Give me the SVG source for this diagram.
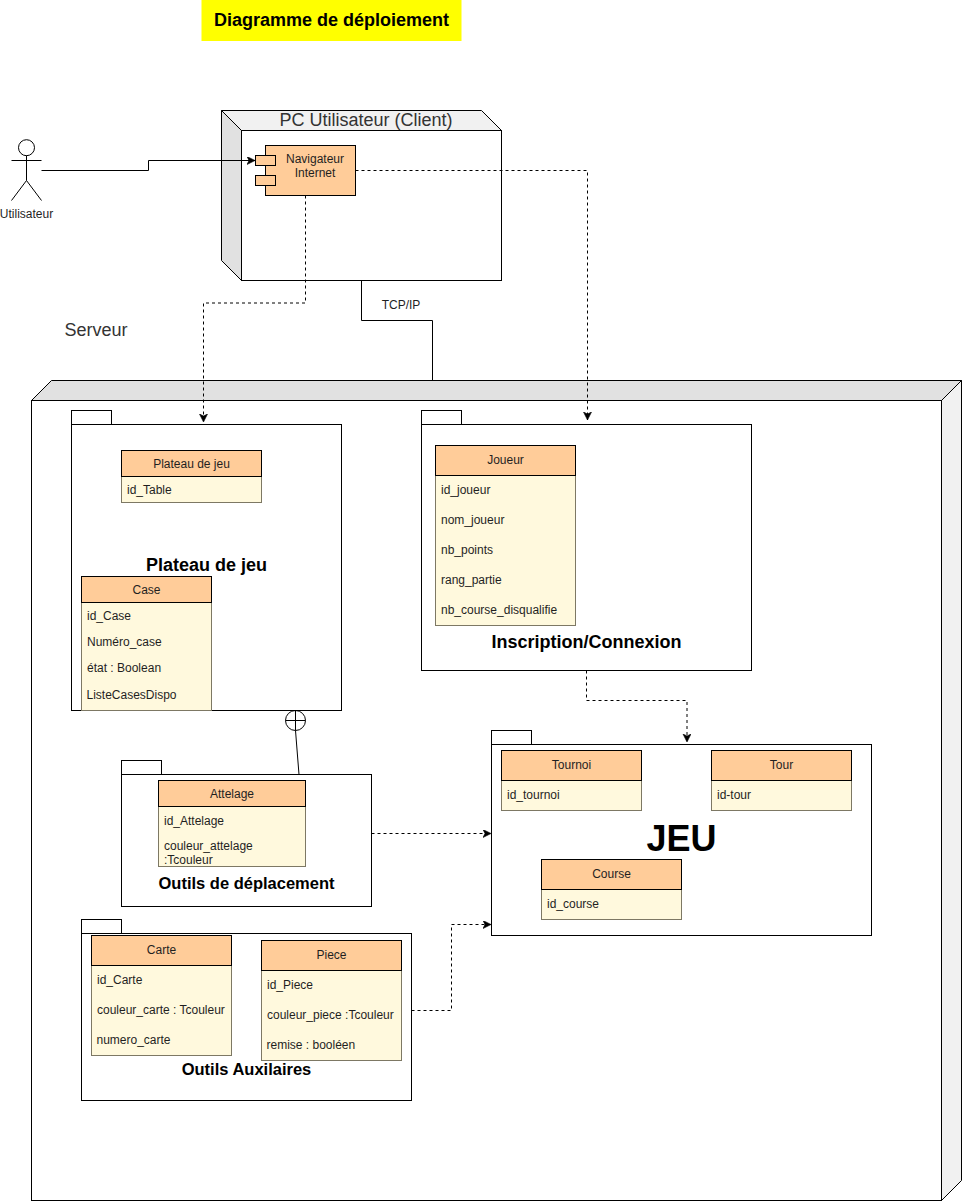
<svg xmlns="http://www.w3.org/2000/svg" width="966" height="1201" viewBox="0 0 966 1201">
<style>
text{font-family:"Liberation Sans",Arial,sans-serif;fill:#1f1f1f;font-size:12px}
.c{text-anchor:middle}
.s{fill:none;stroke:#000;stroke-width:1}
.w{fill:#fff;stroke:#000;stroke-width:1}
.side{fill:#e1e1e1;stroke:#000;stroke-width:1;stroke-linejoin:round}
.light{fill:#f1f1f1;stroke:#000;stroke-width:1;stroke-linejoin:round}
.h{fill:#ffcc99;stroke:#000;stroke-width:1}
.b{fill:#fff9dd;stroke:#7d7864;stroke-width:1}
.o{fill:#ffcc99;stroke:#000;stroke-width:1}
.t{font-weight:bold;font-size:18px;fill:#000;text-anchor:middle}
.t2{font-weight:bold;font-size:16.5px;fill:#000;text-anchor:middle}
.d{fill:none;stroke:#000;stroke-width:1;stroke-dasharray:3 3}
</style>
<defs>
<marker id="arrow" markerUnits="userSpaceOnUse" markerWidth="10" markerHeight="10" refX="8" refY="4" orient="auto"><path d="M0 0L8 4L0 8L2 4Z" fill="#000" stroke="#000" stroke-width="0.6"/></marker>
</defs>

<g id="title"><rect x="201.5" y="0" width="260" height="41" fill="#ffff00"/><text x="331.5" y="26" class="c" style="font-weight:bold;font-size:18px;fill:#000">Diagramme de déploiement</text></g>

<g id="actor-utilisateur">
<circle cx="26.5" cy="147.7" r="8" class="w"/>
<path class="s" d="M26.5 155.5V180.5M11.5 160.5H41.5M11.5 200.5L26.5 180.5L41.5 200.5"/>
<text x="26.5" y="218" class="c">Utilisateur</text>
</g>

<g id="node-pc-client">
<path class="side" d="M221.5 110.5L241.5 130.5V280.5L221.5 260.5Z"/>
<path class="light" d="M221.5 110.5H481.5L501.5 130.5H241.5Z"/>
<rect x="241.5" y="130.5" width="260" height="150" class="w"/>
<text x="366" y="126" class="c" style="font-size:18px;fill:#333">PC Utilisateur (Client)</text>
</g>

<g id="component-navigateur">
<rect x="265.5" y="145.5" width="90" height="50" class="o"/>
<rect x="255.5" y="155.5" width="20" height="10" class="o"/>
<rect x="255.5" y="175.5" width="20" height="10" class="o"/>
<text x="315" y="163" class="c">Navigateur</text>
<text x="315" y="177" class="c">Internet</text>
</g>

<g id="label-serveur"><text x="96" y="336" class="c" style="font-size:18px;fill:#333">Serveur</text></g>
<g id="label-tcpip"><text x="401" y="309" class="c">TCP/IP</text></g>

<g id="node-serveur">
<path class="side" d="M31.5 400.5L51.5 380.5H961.5L941.5 400.5Z"/>
<path class="light" d="M941.5 400.5L961.5 380.5V1180.5L941.5 1200.5Z"/>
<rect x="31.5" y="400.5" width="910" height="800" class="w"/>
</g>

<g id="package-plateau">
<rect x="71.5" y="410.5" width="40" height="14" class="w"/>
<rect x="71.5" y="424.5" width="270" height="286" class="w"/>
<text x="206.5" y="570.500" class="t">Plateau de jeu</text>
</g>
<g id="table-plateau">
<rect x="121.5" y="476.5" width="140" height="26" class="b"/>
<rect x="121.5" y="450.5" width="140" height="26" class="h"/>
<text x="191.5" y="468" class="c">Plateau de jeu</text>
<text x="127" y="494">id_Table</text>
</g>
<g id="table-case">
<rect x="81.5" y="602.5" width="130" height="108" class="b"/>
<rect x="81.5" y="576.5" width="130" height="26" class="h"/>
<text x="146.5" y="594" class="c">Case</text>
<text x="87" y="620">id_Case</text>
<text x="87" y="646">Numéro_case</text>
<text x="87" y="672">état : Boolean</text>
<text x="86.500" y="699">ListeCasesDispo</text>
</g>

<g id="package-inscription">
<rect x="421.5" y="410.5" width="40" height="14" class="w"/>
<rect x="421.5" y="424.5" width="330" height="246" class="w"/>
<text x="586.500" y="648" class="t">Inscription/Connexion</text>
</g>
<g id="table-joueur">
<rect x="435.500" y="475.500" width="140" height="150" class="b"/>
<rect x="435.500" y="445.500" width="140" height="30" class="h"/>
<text x="505.500" y="464" class="c">Joueur</text>
<text x="441" y="494">id_joueur</text>
<text x="441" y="524">nom_joueur</text>
<text x="441" y="554">nb_points</text>
<text x="441" y="584">rang_partie</text>
<text x="441" y="614">nb_course_disqualifie</text>
</g>

<g id="package-outils-deplacement">
<rect x="121.5" y="760.5" width="40" height="14" class="w"/>
<rect x="121.5" y="774.5" width="250" height="132" class="w"/>
<text x="246.500" y="889" class="t2">Outils de déplacement</text>
</g>
<g id="table-attelage">
<rect x="158.500" y="806.500" width="147" height="60" class="b"/>
<rect x="158.500" y="780.500" width="147" height="26" class="h"/>
<text x="232" y="798" class="c">Attelage</text>
<text x="164" y="825">id_Attelage</text>
<text x="164" y="850">couleur_attelage</text>
<text x="164" y="864">:Tcouleur</text>
</g>

<g id="package-outils-auxilaires">
<rect x="81.5" y="919.5" width="40" height="14" class="w"/>
<rect x="81.5" y="933.5" width="330" height="167" class="w"/>
<text x="246.500" y="1075" class="t2">Outils Auxilaires</text>
</g>
<g id="table-carte">
<rect x="91.5" y="965.5" width="140" height="90" class="b"/>
<rect x="91.5" y="935.5" width="140" height="30" class="h"/>
<text x="161.500" y="954" class="c">Carte</text>
<text x="97" y="984">id_Carte</text>
<text x="97" y="1014">couleur_carte : Tcouleur</text>
<text x="96.500" y="1044">numero_carte</text>
</g>
<g id="table-piece">
<rect x="261.5" y="970.5" width="140" height="90" class="b"/>
<rect x="261.5" y="940.5" width="140" height="30" class="h"/>
<text x="331.500" y="959" class="c">Piece</text>
<text x="267" y="989">id_Piece</text>
<text x="267" y="1019">couleur_piece :Tcouleur</text>
<text x="266.500" y="1049">remise : booléen</text>
</g>

<g id="package-jeu">
<rect x="491.5" y="730.5" width="40" height="14" class="w"/>
<rect x="491.5" y="744.5" width="380" height="191" class="w"/>
<text x="681.500" y="851" class="t" style="font-size:36px">JEU</text>
</g>
<g id="table-tournoi">
<rect x="501.5" y="780.5" width="140" height="30" class="b"/>
<rect x="501.5" y="750.5" width="140" height="30" class="h"/>
<text x="571.500" y="769" class="c">Tournoi</text>
<text x="507" y="799">id_tournoi</text>
</g>
<g id="table-tour">
<rect x="711.5" y="780.5" width="140" height="30" class="b"/>
<rect x="711.5" y="750.5" width="140" height="30" class="h"/>
<text x="781.500" y="769" class="c">Tour</text>
<text x="717" y="799">id-tour</text>
</g>
<g id="table-course">
<rect x="541.5" y="889.5" width="140" height="30" class="b"/>
<rect x="541.5" y="859.5" width="140" height="30" class="h"/>
<text x="611.500" y="878" class="c">Course</text>
<text x="547" y="908">id_course</text>
</g>

<g id="connectors">
<path class="s" d="M41.500 170.500H148.500V160.500H255" marker-end="url(#arrow)"/>
<path class="s" d="M361.500 280.500V320.500H432.500V380.500"/>
<path class="d" d="M305.500 195.500V303H203.500V422" marker-end="url(#arrow)"/>
<path class="d" d="M355.500 170.500H587.500V420" marker-end="url(#arrow)"/>
<path class="d" d="M586.500 670.500V700.500H687V742" marker-end="url(#arrow)"/>
<path class="d" d="M371.500 833.500H491" marker-end="url(#arrow)"/>
<path class="d" d="M411.500 1010.500H451.500V924.500H491" marker-end="url(#arrow)"/>
<circle cx="295.500" cy="720.500" r="10" class="s"/>
<path class="s" d="M285.500 720.500H305.500M295.500 710.500V730.500L299 774.500"/>
</g>
</svg>
